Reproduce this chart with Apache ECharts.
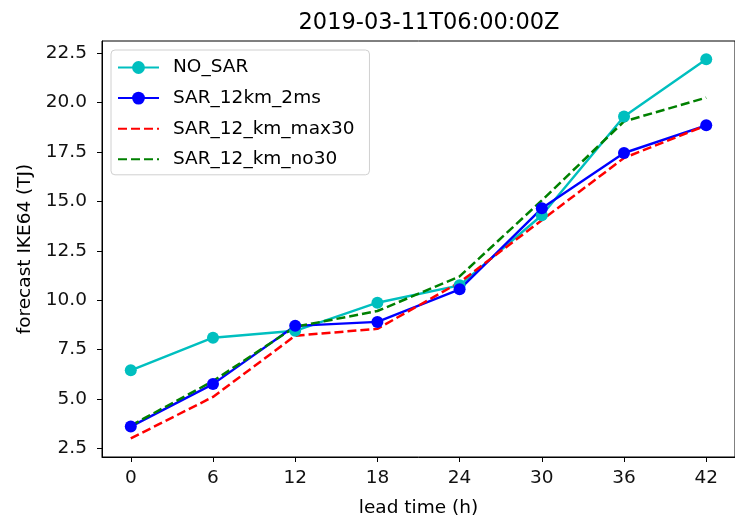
<!DOCTYPE html>
<html>
<head>
<meta charset="utf-8">
<script src="https://cdn.jsdelivr.net/npm/echarts@6/dist/echarts.min.js"></script>
<style>html,body{margin:0;padding:0;background:#fff}#c{width:735px;height:523px}</style>
</head>
<body>
<div id="c"></div>
<script>
var leadTimes = [0, 6, 12, 18, 24, 30, 36, 42];
var noSar = [6.45, 8.1, 8.45, 9.87, 10.75, 14.3, 19.3, 22.2];
var sar12km2ms = [3.6, 5.75, 8.7, 8.9, 10.55, 14.65, 17.45, 18.85];
var sar12kmMax30 = [3.0, 5.1, 8.2, 8.55, 10.9, 14.05, 17.2, 18.85];
var sar12kmNo30 = [3.65, 5.9, 8.65, 9.45, 11.2, 15.05, 19.05, 20.25];
var xTicks = [0, 6, 12, 18, 24, 30, 36, 42];
var yTicks = [2.5, 5.0, 7.5, 10.0, 12.5, 15.0, 17.5, 20.0, 22.5];

function pairs(ys) { return leadTimes.map(function (x, i) { return [x, ys[i]]; }); }
var font = 'DejaVu Sans';
var fs = 18.5;
var hidden = {color: 'rgba(0,0,0,0)', borderWidth: 0, opacity: 0};
var chart = echarts.init(document.getElementById('c'), null, {renderer: 'canvas'});
chart.setOption({
  animation: false,
  backgroundColor: '#fff',
  textStyle: {fontFamily: font},
  title: {
    text: '2019-03-11T06:00:00Z', left: 424, textAlign: 'center', top: 7,
    textStyle: {fontFamily: font, fontSize: 22.5, fontWeight: 'normal', color: '#000'}
  },
  grid: {left: 102, top: 41, right: -9, bottom: 65, show: true, borderColor: '#000', borderWidth: 1, backgroundColor: 'transparent'},
  legend: {
    orient: 'vertical', left: 111, top: 50,
    backgroundColor: '#fff', borderColor: '#d0d0d0', borderWidth: 1, borderRadius: 4,
    padding: [8, 15, 6, 6], itemWidth: 41, itemHeight: 16, itemGap: 11.6,
    textStyle: {fontFamily: font, fontSize: fs, color: '#000', padding: [0, 0, 0, 9]},
    data: [
      {name: 'NO_SAR'},
      {name: 'SAR_12km_2ms'},
      {name: 'SAR_12_km_max30', itemStyle: hidden},
      {name: 'SAR_12_km_no30', itemStyle: hidden}
    ]
  },
  xAxis: {
    type: 'value', min: -2.1, max: 44.1,
    name: 'lead time (h)', nameLocation: 'middle', nameGap: 42,
    nameTextStyle: {fontFamily: font, fontSize: fs, color: '#000'},
    axisLine: {show: true, onZero: false, lineStyle: {color: '#000', width: 1}},
    axisTick: {show: true, length: 5, inside: false, customValues: xTicks, lineStyle: {color: '#000'}},
    axisLabel: {customValues: xTicks, fontFamily: font, fontSize: fs, color: '#111', margin: 12},
    splitLine: {show: false}
  },
  yAxis: {
    type: 'value', min: 2.06, max: 23.12,
    name: 'forecast IKE64 (TJ)', nameLocation: 'middle', nameGap: 62, nameRotate: 90,
    nameTextStyle: {fontFamily: font, fontSize: fs, color: '#000'},
    axisLine: {show: true, onZero: false, lineStyle: {color: '#000', width: 1}},
    axisTick: {show: true, length: 5, customValues: yTicks, lineStyle: {color: '#000'}},
    axisLabel: {customValues: yTicks, fontFamily: font, fontSize: fs, color: '#111', margin: 15,
      formatter: function (v) { return v.toFixed(1); }},
    splitLine: {show: false}
  },
  series: [
    {name: 'NO_SAR', type: 'line', data: pairs(noSar), color: '#00bfbf',
      symbol: 'circle', symbolSize: 12, lineStyle: {width: 2.4, color: '#00bfbf'}, itemStyle: {color: '#00bfbf'}},
    {name: 'SAR_12km_2ms', type: 'line', data: pairs(sar12km2ms), color: '#0000ff',
      symbol: 'circle', symbolSize: 12, lineStyle: {width: 2.4, color: '#0000ff'}, itemStyle: {color: '#0000ff'}},
    {name: 'SAR_12_km_max30', type: 'line', data: pairs(sar12kmMax30), color: '#ff0000',
      symbol: 'none', lineStyle: {width: 2.5, color: '#ff0000', type: [9, 4]}},
    {name: 'SAR_12_km_no30', type: 'line', data: pairs(sar12kmNo30), color: '#008000',
      symbol: 'none', lineStyle: {width: 2.5, color: '#008000', type: [9, 4]}}
  ]
});
</script>
</body>
</html>
